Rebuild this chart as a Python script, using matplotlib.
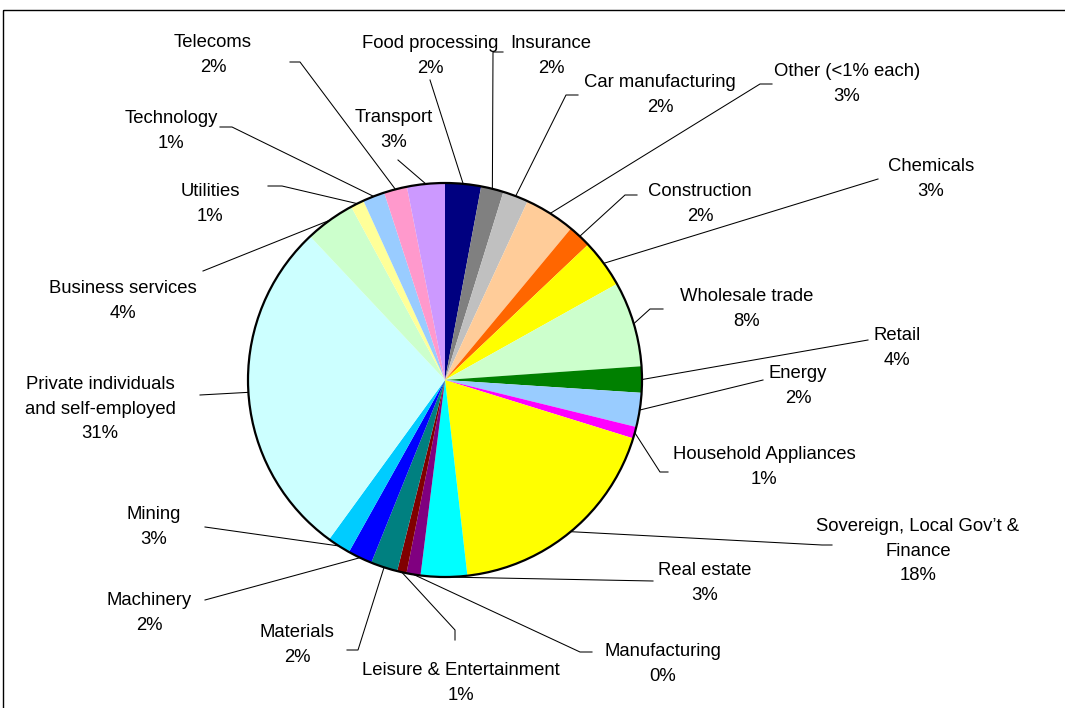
import matplotlib

matplotlib.use("Agg")
import matplotlib.pyplot as plt
import numpy as np
from matplotlib.patches import Circle, Rectangle

plt.rcParams["font.family"] = ["Liberation Sans", "DejaVu Sans"]

# slices clockwise from 12 o'clock
sectors = ["Food processing", "Insurance", "Car manufacturing", "Other (<1% each)",
           "Construction", "Chemicals", "Wholesale trade", "Retail", "Energy",
           "Household Appliances", "Sovereign, Local Gov\u2019t &\nFinance", "Real estate",
           "Manufacturing", "Leisure & Entertainment", "Materials", "Machinery", "Mining",
           "Private individuals\nand self-employed", "Business services", "Utilities",
           "Technology", "Telecoms", "Transport"]
pct_text = ["2%", "2%", "2%", "3%", "2%", "3%", "8%", "4%", "2%", "1%", "18%", "3%",
            "0%", "1%", "2%", "2%", "3%", "31%", "4%", "1%", "1%", "2%", "3%"]
# slice sizes as drawn in the picture (printed labels are rounded differently)
shares = [2.94, 1.85, 2.10, 4.15, 1.90, 3.95, 7.00, 2.15, 2.80, 0.95, 18.40, 3.80,
          1.15, 0.77, 2.20, 2.00, 1.90, 28.00, 4.10, 1.10, 1.80, 1.90, 3.10]
colors = ["#000080", "#808080", "#C0C0C0", "#FFCC99", "#FF6600", "#FFFF00", "#CCFFCC",
          "#008000", "#99CCFF", "#FF00FF", "#FFFF00", "#00FFFF", "#800080", "#800000",
          "#008080", "#0000FF", "#00CCFF", "#CCFFFF", "#CCFFCC", "#FFFF99", "#99CCFF",
          "#FF99CC", "#CC99FF"]

# label block centre, then leader-line points from the label towards the pie
label_pos = [
    ((430, 56), [(430, 80)]),
    ((551, 56), [(503, 52), (493, 52)]),
    ((660, 95), [(578, 95), (566, 95)]),
    ((847, 84), [(772, 84), (760, 84)]),
    ((700, 204), [(637, 195), (625, 195)]),
    ((931, 179), [(878, 179)]),
    ((747, 309), [(663, 309), (650, 309)]),
    ((897, 348), [(868, 340)]),
    ((798, 386), [(763, 380)]),
    ((764, 467), [(668, 472), (660, 472)]),
    ((918, 551), [(832, 545), (822, 545)]),
    ((705, 583), [(653, 581)]),
    ((663, 664), [(592, 652), (580, 652)]),
    ((461, 683), [(455, 640), (455, 630)]),
    ((297, 645), [(347, 650), (358, 650)]),
    ((149, 613), [(205, 600)]),
    ((154, 527), [(205, 527)]),
    ((100, 409), [(200, 395)]),
    ((123, 301), [(203, 271)]),
    ((210, 204), [(268, 186), (282, 186)]),
    ((171, 131), [(220, 127), (232, 127)]),
    ((213, 55), [(290, 62), (300, 62)]),
    ((394, 130), [(398, 160)]),
]

CX, CY, R = 445, 380, 197

fig = plt.figure(figsize=(10.65, 7.08), dpi=100)
ax = fig.add_axes([0, 0, 1, 1])

ax.pie(shares, colors=colors, startangle=-90, counterclock=True, center=(CX, CY), radius=R,
       wedgeprops=dict(linewidth=0, antialiased=True))
ax.add_patch(Circle((CX, CY), R, fill=False, ec="black", lw=1.6, zorder=4))

# leader lines end on the rim at each slice's mid angle
vals = np.array(shares)
mid = (np.cumsum(vals) - vals / 2) / vals.sum() * 2 * np.pi
for i, name in enumerate(sectors):
    (tx, ty), pts = label_pos[i]
    ex, ey = CX + R * np.sin(mid[i]), CY - R * np.cos(mid[i])
    xs = [p[0] for p in pts] + [ex]
    ys = [p[1] for p in pts] + [ey]
    ax.plot(xs, ys, color="black", lw=0.75, zorder=3)
    ax.text(tx, ty, name + "\n" + pct_text[i], ha="center", va="center",
            multialignment="center", fontsize=13.3, linespacing=1.6)

ax.add_patch(Rectangle((3, 10), 1100, 720, fill=False, ec="black", lw=1.0))

ax.set_xlim(0, 1065)
ax.set_ylim(708, 0)
ax.set_aspect("auto")
ax.axis("off")

fig.savefig("out.png", dpi=100)
